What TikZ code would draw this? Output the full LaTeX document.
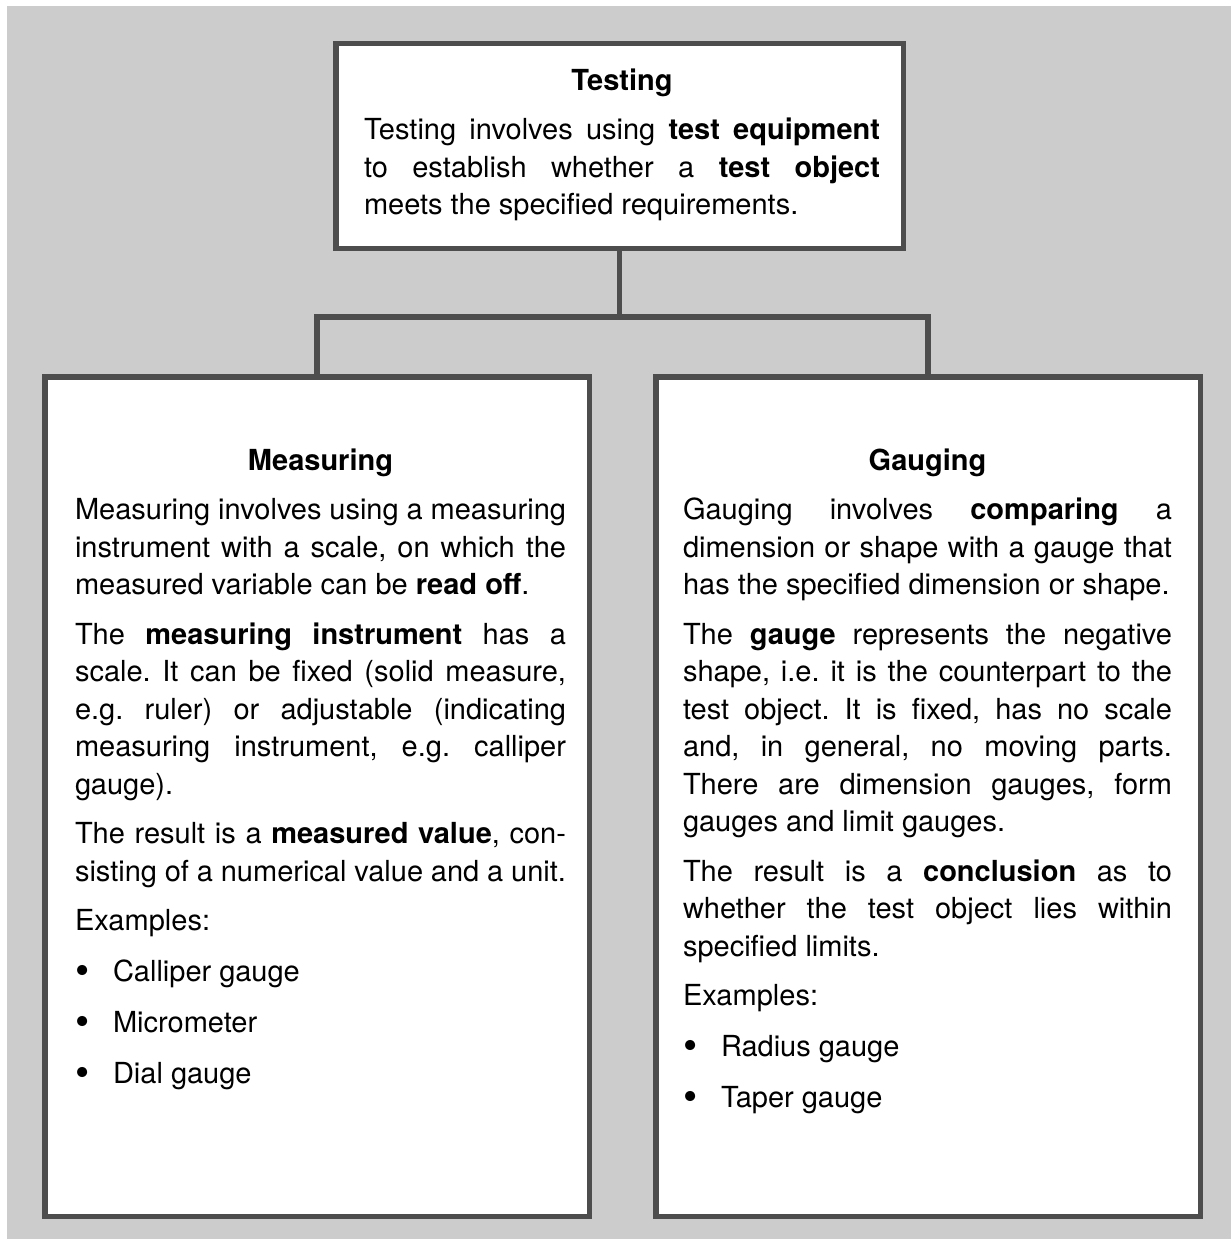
\documentclass[tikz,border=0pt]{standalone}
\usepackage{fontspec}
\setmainfont{TeX Gyre Heros}
\definecolor{bggray}{HTML}{CCCCCC}
\definecolor{framegray}{HTML}{4D4D4D}
\newcommand{\jline}[1]{\makebox[\linewidth][s]{#1}\newline}
\newcommand{\bitem}[1]{\vspace{1.5pt}\makebox[38pt][l]{\raisebox{-2.5pt}{\scalebox{1.4}{\textbullet}}}#1\par}
\tikzset{
  framebox/.style={draw=framegray, line width=5.5pt, fill=white, rectangle, inner sep=0pt},
  conn/.style={draw=framegray, line width=5.5pt},
  boxtext/.style={anchor=base west, inner sep=0pt, outer sep=0pt,
    execute at begin node={\fontsize{29pt}{37.5pt}\selectfont\frenchspacing
      \spaceskip=0.278em plus 0.5em minus 0.05em\relax
      \xspaceskip=\spaceskip
      \setlength\parskip{12pt}\setlength\parindent{0pt}}}
}
\begin{document}
\begin{tikzpicture}[x=1pt,y=-1pt]
\useasboundingbox (0,0) rectangle (1231,1239);
\fill[bggray] (7,6) rectangle (1231,1239);

\node[framebox, minimum width=567.5pt, minimum height=204.5pt] (testing) at (619.5,146) {};
\node[framebox, minimum width=544.5pt, minimum height=839.5pt] (measuring) at (317,796.5) {};
\node[framebox, minimum width=544.5pt, minimum height=839.5pt] (gauging) at (928,796.5) {};

\coordinate (junction) at (619.5,317);
\draw[conn] (testing.south) -- (junction);
\draw[conn] (measuring.north) |- (junction) -| (gauging.north);

\node[boxtext, text width=516pt] (testingtext) at (364,90) {%
{\centering\bfseries Testing\par}
\jline{Testing involves using \textbf{test equipment}}
\jline{to establish whether a \textbf{test object}}
meets the specified requirements.\par};

\node[boxtext, text width=491pt] (measuringtext) at (75,470) {%
{\centering\bfseries Measuring\par}
\jline{Measuring involves using a measuring}
\jline{instrument with a scale, on which the}
measured variable can be \textbf{read off}.\par
\jline{The \textbf{measuring instrument} has a}
\jline{scale. It can be fixed (solid measure,}
\jline{e.g. ruler) or adjustable (indicating}
\jline{measuring instrument, e.g. calliper}
gauge).\par
\jline{The result is a \textbf{measured value}, con-}
sisting of a numerical value and a unit.\par
Examples:\par
\bitem{Calliper gauge}
\bitem{Micrometer}
\bitem{Dial gauge}};

\node[boxtext, text width=489pt] (gaugingtext) at (683,470) {%
{\centering\bfseries Gauging\par}
\jline{Gauging involves \textbf{comparing} a}
\jline{dimension or shape with a gauge that}
has the specified dimension or shape.\par
\jline{The \textbf{gauge} represents the negative}
\jline{shape, i.e. it is the counterpart to the}
\jline{test object. It is fixed, has no scale}
\jline{and, in general, no moving parts.}
\jline{There are dimension gauges, form}
gauges and limit gauges.\par
\jline{The result is a \textbf{conclusion} as to}
\jline{whether the test object lies within}
specified limits.\par
Examples:\par
\bitem{Radius gauge}
\bitem{Taper gauge}};
\end{tikzpicture}
\end{document}
